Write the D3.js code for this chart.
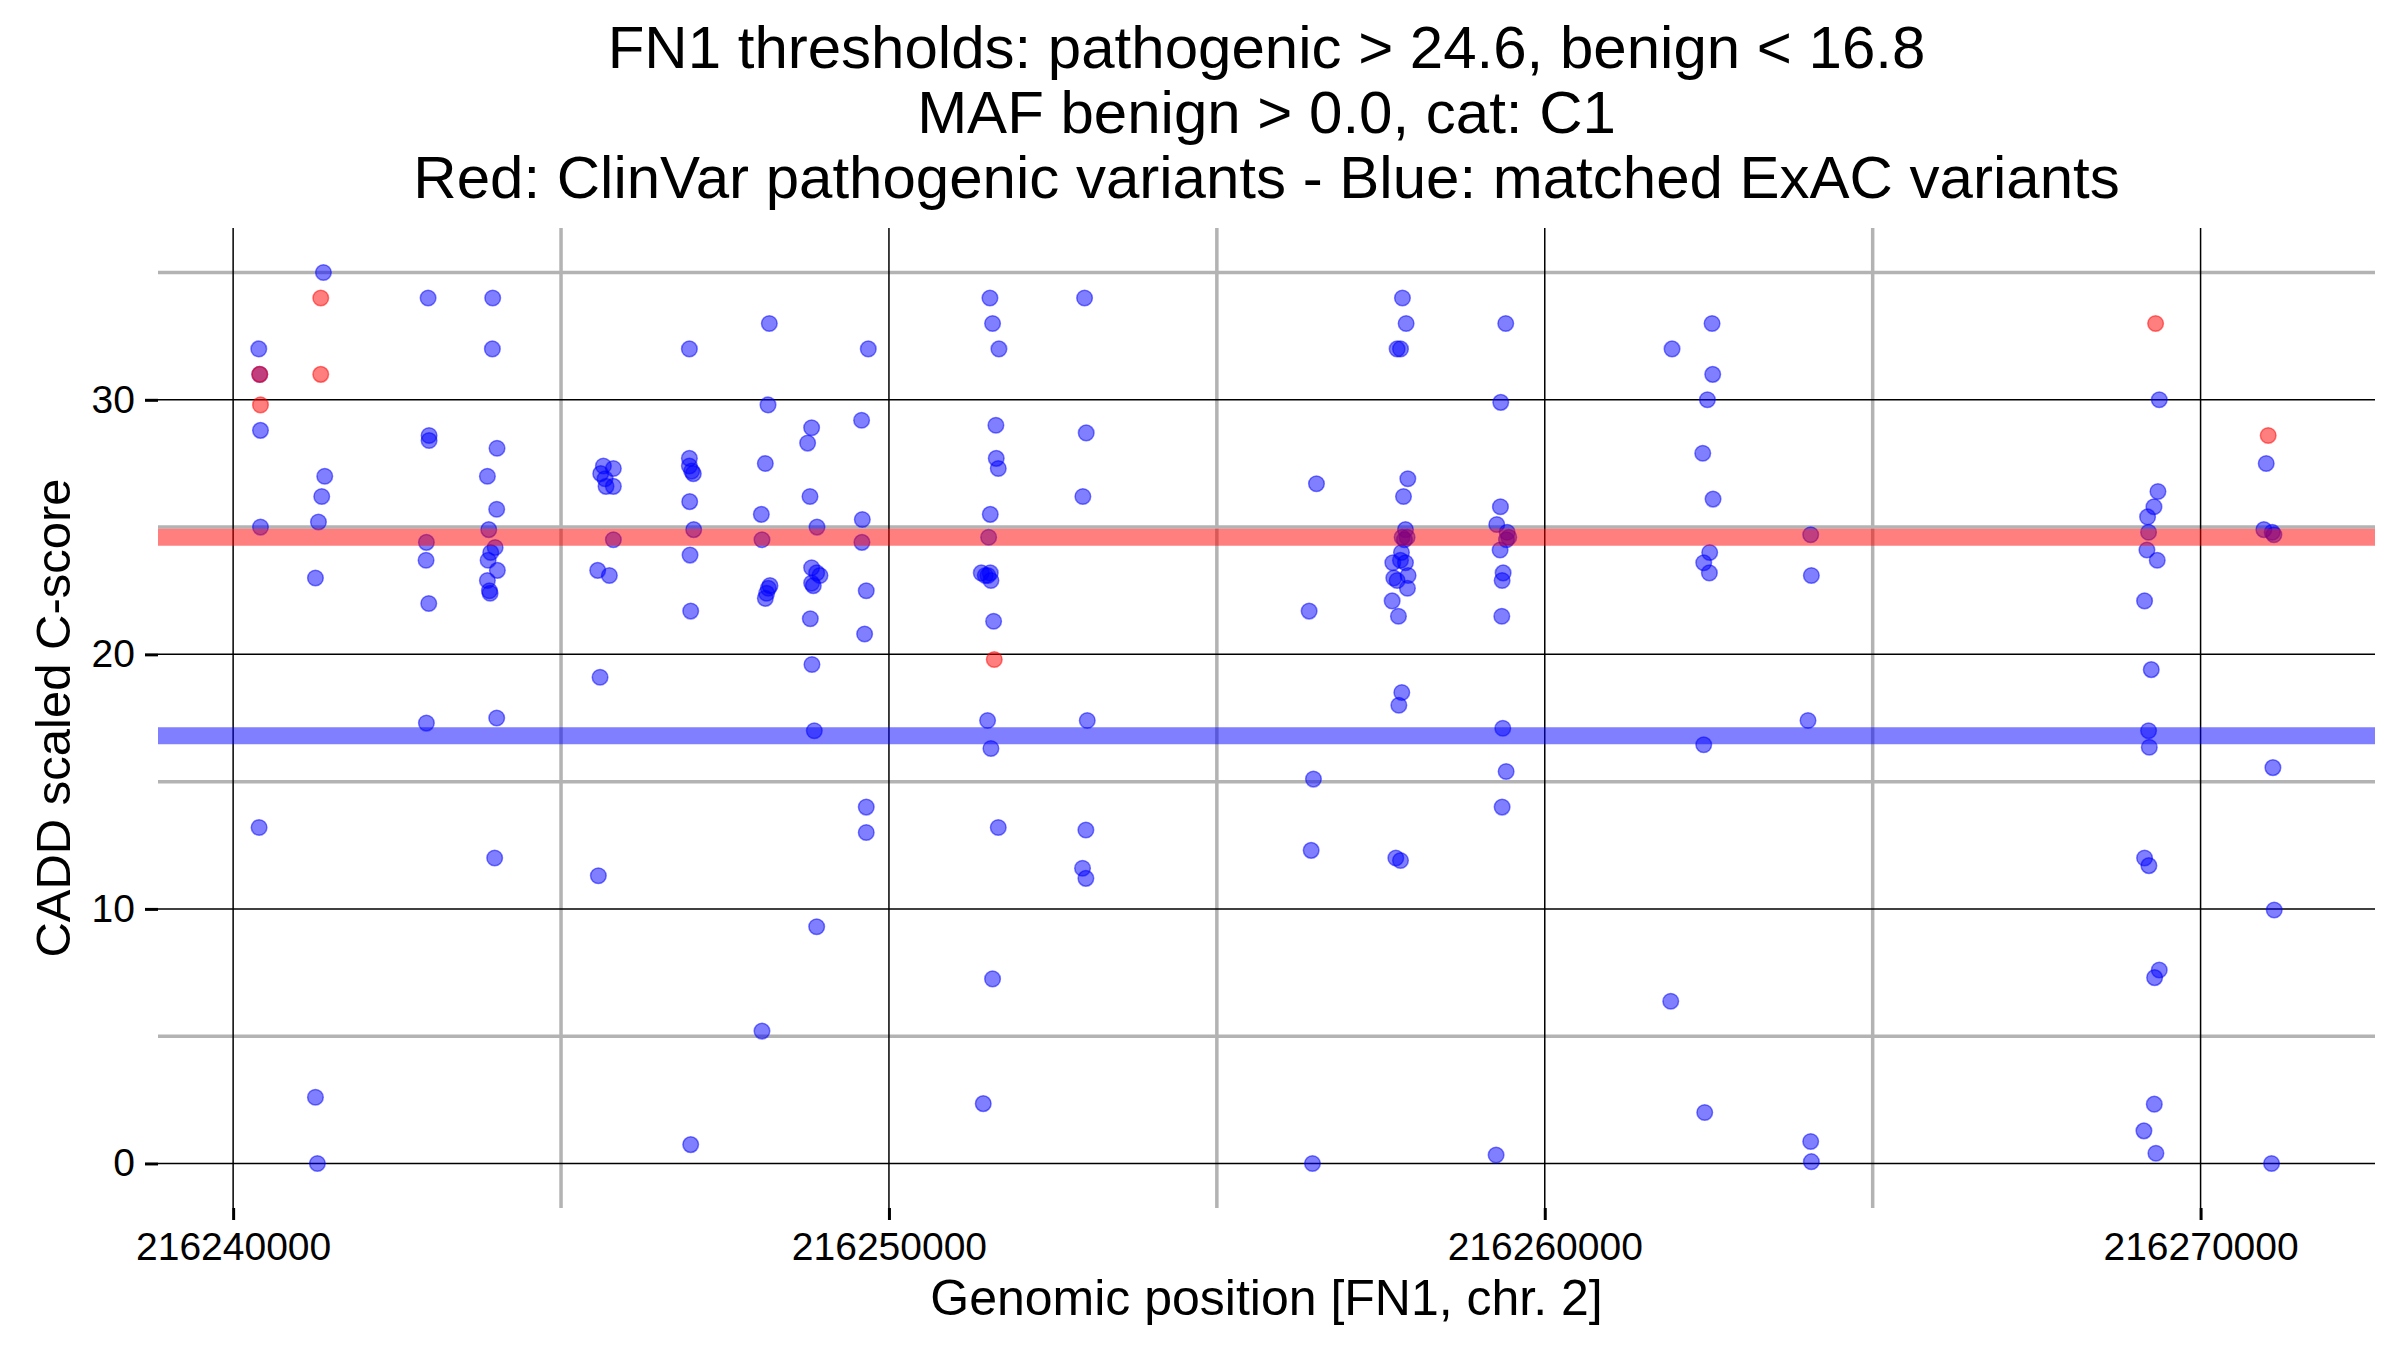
<!DOCTYPE html>
<html>
<head>
<meta charset="utf-8">
<script src="https://cdn.jsdelivr.net/npm/d3@7"></script>
<style>
  body { margin: 0; background: #fff; }
  svg text { font-family: "Liberation Sans", Arial, Helvetica, sans-serif; }
</style>
</head>
<body>
<div class="canvas"></div>
<script>
// title lines
const titleLines = [
    'FN1 thresholds: pathogenic > 24.6, benign < 16.8',
    'MAF benign > 0.0, cat: C1',
    'Red: ClinVar pathogenic variants - Blue: matched ExAC variants'
]

// thresholds
const pathogenicCut = 24.6
const benignCut = 16.8

// ticks
const xMajor = [216240000, 216250000, 216260000, 216270000]
const xMinor = [216245000, 216255000, 216265000]
const yMajor = [0, 10, 20, 30]
const yMinor = [5, 15, 25, 35]

// matched ExAC variants [position, CADD score] (blue)
const exacVariants = [
    [216240391, 32.0], [216240406, 31.0], [216240417, 28.8], [216240417, 25.0], [216240396, 13.2],
    [216241377, 35.0], [216241397, 27.0], [216241351, 26.2], [216241301, 25.2], [216241255, 23.0],
    [216241255, 2.6], [216241285, 0.0],
    [216242973, 34.0], [216242988, 28.6], [216242988, 28.4], [216242947, 24.4], [216242942, 23.7],
    [216242983, 22.0], [216242947, 17.3],
    [216243958, 34.0], [216243953, 32.0], [216244024, 28.1], [216243877, 27.0], [216244019, 25.7],
    [216243898, 24.9], [216243995, 24.2], [216243928, 24.0], [216243888, 23.7], [216244029, 23.3],
    [216243877, 22.9], [216243908, 22.5], [216243918, 22.4], [216244019, 17.5], [216243988, 12.0],
    [216245646, 27.4], [216245798, 27.3], [216245605, 27.1], [216245671, 26.9], [216245686, 26.6],
    [216245798, 26.6], [216245798, 24.5], [216245559, 23.3], [216245737, 23.1], [216245595, 19.1],
    [216245569, 11.3],
    [216246957, 32.0], [216246957, 27.7], [216246957, 27.4], [216246992, 27.2], [216247017, 27.1],
    [216246962, 26.0], [216247023, 24.9], [216246967, 23.9], [216246977, 21.7], [216246977, 0.74],
    [216248176, 33.0], [216248156, 29.8], [216248115, 27.5], [216248054, 25.5], [216248064, 24.5],
    [216248186, 22.7], [216248161, 22.6], [216248135, 22.4], [216248115, 22.2], [216248064, 5.2],
    [216248821, 28.9], [216248760, 28.3], [216248796, 26.2], [216248903, 25.0], [216248821, 23.4],
    [216248898, 23.2], [216248948, 23.1], [216248821, 22.8], [216248847, 22.7], [216248801, 21.4],
    [216248826, 19.6], [216248862, 17.0], [216248898, 9.3],
    [216249685, 32.0], [216249583, 29.2], [216249594, 25.3], [216249588, 24.4], [216249654, 22.5],
    [216249629, 20.8], [216249654, 14.0], [216249654, 13.0],
    [216251540, 34.0], [216251580, 33.0], [216251677, 32.0], [216251631, 29.0], [216251636, 27.7],
    [216251667, 27.3], [216251545, 25.5], [216251520, 24.6], [216251408, 23.2], [216251545, 23.2],
    [216251509, 23.1], [216251469, 23.1], [216251555, 22.9], [216251596, 21.3], [216251504, 17.4],
    [216251555, 16.3], [216251667, 13.2], [216251580, 7.25], [216251438, 2.35],
    [216252983, 34.0], [216253008, 28.7], [216252957, 26.2], [216253024, 17.4], [216253003, 13.1],
    [216252952, 11.6], [216253003, 11.2],
    [216256519, 26.7], [216256407, 21.7], [216256473, 15.1], [216256438, 12.3], [216256458, 0.0],
    [216257830, 34.0], [216257886, 33.0], [216257749, 32.0], [216257800, 32.0], [216257912, 26.9],
    [216257846, 26.2], [216257876, 24.9], [216257825, 24.6], [216257901, 24.6], [216257860, 24.5],
    [216257815, 24.0], [216257683, 23.6], [216257800, 23.7], [216257876, 23.6], [216257916, 23.1],
    [216257698, 23.0], [216257749, 22.9], [216257906, 22.6], [216257673, 22.1], [216257769, 21.5],
    [216257820, 18.5], [216257775, 18.0], [216257729, 12.0], [216257800, 11.9],
    [216259405, 33.0], [216259329, 29.9], [216259324, 25.8], [216259268, 25.1], [216259426, 24.8],
    [216259451, 24.6], [216259416, 24.5], [216259319, 24.1], [216259365, 23.2], [216259350, 22.9],
    [216259345, 21.5], [216259360, 17.1], [216259411, 15.4], [216259350, 14.0], [216259258, 0.33],
    [216261941, 32.0], [216261921, 6.37],
    [216262551, 33.0], [216262561, 31.0], [216262480, 30.0], [216262409, 27.9], [216262566, 26.1],
    [216262515, 24.0], [216262424, 23.6], [216262510, 23.2], [216262424, 16.45], [216262439, 2.0],
    [216264055, 24.7], [216264065, 23.1], [216264014, 17.4], [216264055, 0.86], [216264065, 0.07],
    [216269370, 30.0], [216269350, 26.4], [216269289, 25.8], [216269192, 25.4], [216269207, 24.8],
    [216269182, 24.1], [216269339, 23.7], [216269146, 22.1], [216269248, 19.4], [216269207, 17.0],
    [216269218, 16.35], [216269146, 12.0], [216269212, 11.7], [216269370, 7.6], [216269299, 7.3],
    [216269294, 2.33], [216269136, 1.28], [216269319, 0.4],
    [216271001, 27.5], [216270965, 24.9], [216271092, 24.8], [216271118, 24.7], [216271103, 15.55],
    [216271123, 9.96], [216271082, 0.0]
]

// ClinVar pathogenic variants [position, CADD score] (red)
const clinvarVariants = [
    [216240406, 31.0], [216240417, 29.8],
    [216241336, 34.0], [216241336, 31.0],
    [216251606, 19.8],
    [216269314, 33.0],
    [216271031, 28.6]
]

// canvas
const width = 2400
const height = 1350
const margin = { top: 228, right: 25, bottom: 142, left: 158 }
const graphWidth = width - margin.left - margin.right
const graphHeight = height - margin.top - margin.bottom

const svg = d3.select('.canvas')
                .append('svg')
                .attr('width', width)
                .attr('height', height)

const graph = svg.append('g')
                .attr('transform', `translate(${margin.left}, ${margin.top})`)

// scales (ggplot style 5% expansion)
const allPos = exacVariants.concat(clinvarVariants).map(d => d[0])
const xMin = d3.min(allPos), xMax = d3.max(allPos)
const xPad = (xMax - xMin) * 0.05
const x = d3.scaleLinear()
            .domain([xMin - xPad, xMax + xPad])
            .range([0, graphWidth])
const y = d3.scaleLinear()
            .domain([-1.75, 36.75])
            .range([graphHeight, 0])

// minor grid (grey, thick)
graph.selectAll('.minor-x').data(xMinor).enter().append('line')
    .attr('x1', d => x(d)).attr('x2', d => x(d))
    .attr('y1', 0).attr('y2', graphHeight)
    .attr('stroke', '#b3b3b3').attr('stroke-width', 3.5)
graph.selectAll('.minor-y').data(yMinor).enter().append('line')
    .attr('x1', 0).attr('x2', graphWidth)
    .attr('y1', d => y(d)).attr('y2', d => y(d))
    .attr('stroke', '#b3b3b3').attr('stroke-width', 3.5)

// major grid (black, thin)
graph.selectAll('.major-x').data(xMajor).enter().append('line')
    .attr('x1', d => x(d)).attr('x2', d => x(d))
    .attr('y1', 0).attr('y2', graphHeight)
    .attr('stroke', '#000').attr('stroke-width', 1.5)
graph.selectAll('.major-y').data(yMajor).enter().append('line')
    .attr('x1', 0).attr('x2', graphWidth)
    .attr('y1', d => y(d)).attr('y2', d => y(d))
    .attr('stroke', '#000').attr('stroke-width', 1.5)

// points - blue first, red on top
const drawPoints = (data, colour) => {
    graph.append('g').selectAll('circle')
        .data(data)
        .enter()
        .append('circle')
        .attr('cx', d => x(d[0]))
        .attr('cy', d => y(d[1]))
        .attr('r', 7.8)
        .attr('fill', colour)
        .attr('fill-opacity', 0.5)
        .attr('stroke', colour)
        .attr('stroke-opacity', 0.5)
        .attr('stroke-width', 1.5)
}
drawPoints(exacVariants, '#0000ff')
drawPoints(clinvarVariants, '#ff0000')

// threshold lines
graph.append('line')
    .attr('x1', 0).attr('x2', graphWidth)
    .attr('y1', y(pathogenicCut)).attr('y2', y(pathogenicCut))
    .attr('stroke', '#ff0000').attr('stroke-opacity', 0.5).attr('stroke-width', 17)
graph.append('line')
    .attr('x1', 0).attr('x2', graphWidth)
    .attr('y1', y(benignCut)).attr('y2', y(benignCut))
    .attr('stroke', '#0000ff').attr('stroke-opacity', 0.5).attr('stroke-width', 17)

// axes
const xAxis = d3.axisBottom(x).tickValues(xMajor).tickSize(12).tickPadding(12).tickFormat(d3.format('d'))
const yAxis = d3.axisLeft(y).tickValues(yMajor).tickSize(13).tickPadding(10)

const xAxisGroup = graph.append('g')
    .attr('transform', `translate(0, ${graphHeight})`)
    .call(xAxis)
const yAxisGroup = graph.append('g').call(yAxis)

xAxisGroup.select('.domain').remove()
yAxisGroup.select('.domain').remove()
xAxisGroup.selectAll('line').attr('stroke-width', 3)
yAxisGroup.selectAll('line').attr('stroke-width', 3)
xAxisGroup.selectAll('text')
    .attr('font-size', 39)
    .attr('fill', '#000')
    .attr('font-family', '"Liberation Sans", Arial, sans-serif')
yAxisGroup.selectAll('text')
    .attr('font-size', 39)
    .attr('fill', '#000')
    .attr('font-family', '"Liberation Sans", Arial, sans-serif')

// axis titles
svg.append('text')
    .attr('x', margin.left + graphWidth / 2)
    .attr('y', 1315)
    .attr('text-anchor', 'middle')
    .attr('font-size', 50)
    .text('Genomic position [FN1, chr. 2]')

svg.append('text')
    .attr('transform', `translate(70, ${margin.top + graphHeight / 2}) rotate(-90)`)
    .attr('text-anchor', 'middle')
    .attr('font-size', 49)
    .text('CADD scaled C-score')

// title
svg.append('g').selectAll('text')
    .data(titleLines)
    .enter()
    .append('text')
    .attr('x', margin.left + graphWidth / 2)
    .attr('y', (d, i) => 68 + i * 65)
    .attr('text-anchor', 'middle')
    .attr('font-size', 60)
    .text(d => d)
</script>
</body>
</html>
